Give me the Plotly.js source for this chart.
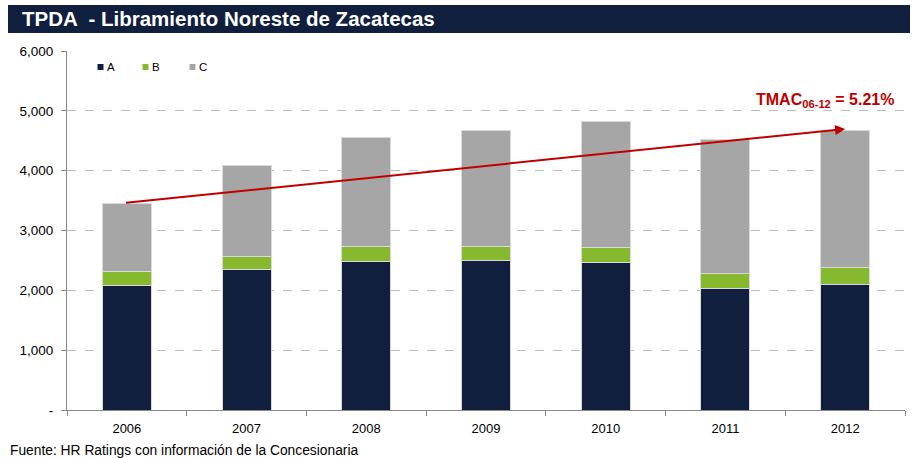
<!DOCTYPE html>
<html>
<head>
<meta charset="utf-8">
<script src="https://cdn.plot.ly/plotly-3.0.1.min.js"></script>
<style>html,body{margin:0;padding:0;background:#fff;}#chart{width:917px;height:458px;}</style>
</head>
<body>
<div id="chart"></div>
<script>
var years = ["2006","2007","2008","2009","2010","2011","2012"];
var serieA = [2080, 2340, 2480, 2495, 2465, 2030, 2100];
var serieB = [240, 230, 255, 240, 255, 255, 280];
var serieC = [1123, 1510, 1825, 1930, 2110, 2240, 2290];
var seriesNames = ["A", "B", "C"];
var seriesColors = ["#0f1f3d", "#86b92e", "#a6a6a6"];
var yTickVals = [0, 1000, 2000, 3000, 4000, 5000, 6000];
var yTickText = ["-", "1,000", "2,000", "3,000", "4,000", "5,000", "6,000"];
var trendStart = 3460;
var trendEnd = 4697;

var L = 67, PW = 838, B = 410, PH = 359;
function px(v){ return (v - L) / PW; }
function py(v){ return (B - v) / PH; }

var edge = {color: "#d9d9d9", width: 1};
var vals = [serieA, serieB, serieC];
var traces = vals.map(function(v, i){
  return {type: "bar", name: seriesNames[i], x: years, y: v, showlegend: false,
          marker: {color: seriesColors[i], line: edge}};
});

// manual legend positions (pixels)
var legX = [97.5, 142.5, 189.5];
var shapes = [
  {type: "rect", xref: "paper", yref: "paper", x0: px(8), x1: px(910), y0: py(33), y1: py(5),
   fillcolor: "#0f1f3d", line: {width: 0}, layer: "below"}
];
var annotations = [
  {xref: "x", yref: "y", axref: "x", ayref: "y", x: 6, y: trendEnd, ax: -0.02, ay: trendStart,
   showarrow: true, arrowcolor: "#c00000", arrowwidth: 2, arrowhead: 2, arrowsize: 1, text: ""},
  {xref: "paper", yref: "paper", x: px(896), y: py(100), xanchor: "right", yanchor: "middle",
   showarrow: false, text: "<b>TMAC<sub>06-12</sub> = 5.21%</b>", font: {size: 16, color: "#c00000"}},
  {xref: "paper", yref: "paper", x: px(8), y: py(450), xanchor: "left", yanchor: "middle",
   showarrow: false, text: "Fuente: HR Ratings con información de la Concesionaria", font: {size: 13.8, color: "#000"}}
];
seriesNames.forEach(function(n, i){
  shapes.push({type: "rect", xref: "paper", yref: "paper", x0: px(legX[i]), x1: px(legX[i] + 6),
               y0: py(70), y1: py(64), fillcolor: seriesColors[i], line: {width: 0}});
  annotations.push({xref: "paper", yref: "paper", x: px(legX[i] + 7.5), y: py(67), xanchor: "left", yanchor: "middle",
                    showarrow: false, text: n, font: {size: 11.5, color: "#000"}});
});

var layout = {
  width: 917, height: 458,
  margin: {l: 67, r: 12, t: 51, b: 48},
  paper_bgcolor: "#fff", plot_bgcolor: "#fff",
  barmode: "stack", bargap: 0.59,
  font: {family: "Liberation Sans, Arial, sans-serif", color: "#000", size: 11},
  title: {text: "TPDA  - Libramiento Noreste de Zacatecas", x: 22/917, xanchor: "left", xref: "container",
          y: 1 - 19/458, yanchor: "middle", yref: "container",
          font: {family: "Liberation Sans, Arial, sans-serif", size: 20.5, color: "#fff", weight: "bold"}},
  showlegend: false,
  xaxis: {type: "category", showline: true, linecolor: "#888", linewidth: 1, ticks: "outside", tickson: "boundaries",
          ticklen: 5, tickcolor: "#888", showgrid: false, tickfont: {size: 13}, ticklabelstandoff: 6, fixedrange: true},
  yaxis: {range: [0, 6000], tickvals: yTickVals, ticktext: yTickText, showline: true, linecolor: "#888", linewidth: 1,
          ticks: "outside", ticklen: 5, tickcolor: "#888", showgrid: true, gridcolor: "#bdbdbd", griddash: "dash",
          gridwidth: 1, zeroline: false, tickfont: {size: 13.5}, ticklabelstandoff: 5, fixedrange: true},
  shapes: shapes,
  annotations: annotations
};

Plotly.newPlot("chart", traces, layout, {displayModeBar: false, staticPlot: true});
</script>
</body>
</html>
